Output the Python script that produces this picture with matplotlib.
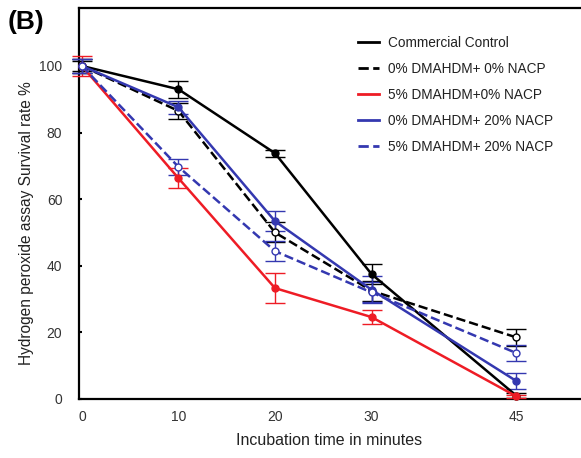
#!/usr/bin/env python3
"""Hydrogen peroxide assay survival rate vs incubation time (panel B)."""

import matplotlib
matplotlib.use("Agg")
import matplotlib.pyplot as plt
from matplotlib.lines import Line2D

TIME = [0, 10, 20, 30, 45]

SERIES = [
    "Commercial Control",
    "0% DMAHDM+ 0% NACP",
    "5% DMAHDM+0% NACP",
    "0% DMAHDM+ 20% NACP",
    "5% DMAHDM+ 20% NACP",
]
MEANS = {
    "Commercial Control":   [100, 93.0, 73.8, 37.5, 1.0],
    "0% DMAHDM+ 0% NACP":   [100, 86.5, 50.0, 32.5, 18.5],
    "5% DMAHDM+0% NACP":    [100, 66.3, 33.3, 24.6, 0.8],
    "0% DMAHDM+ 20% NACP":  [100, 87.6, 53.4, 32.8, 5.4],
    "5% DMAHDM+ 20% NACP":  [100, 69.7, 44.4, 32.0, 13.8],
}
ERRS = {
    "Commercial Control":   [1.5, 2.5, 1.0, 3.0, 0.8],
    "0% DMAHDM+ 0% NACP":   [2.0, 2.5, 3.0, 3.0, 2.5],
    "5% DMAHDM+0% NACP":    [3.0, 3.0, 4.5, 2.0, 0.5],
    "0% DMAHDM+ 20% NACP":  [2.0, 2.0, 3.0, 4.0, 2.5],
    "5% DMAHDM+ 20% NACP":  [2.0, 2.5, 3.0, 3.0, 2.5],
}

BLUE = "#3438b0"
COLORS = {
    "Commercial Control":   "black",
    "0% DMAHDM+ 0% NACP":   "black",
    "5% DMAHDM+0% NACP":    "#ee1c25",
    "0% DMAHDM+ 20% NACP":  BLUE,
    "5% DMAHDM+ 20% NACP":  BLUE,
}
DASHED = {"0% DMAHDM+ 0% NACP", "5% DMAHDM+ 20% NACP"}

plt.rcParams["font.family"] = ["Liberation Sans", "DejaVu Sans"]

fig = plt.figure(figsize=(5.81, 4.58), dpi=100)
ax = fig.add_axes([79 / 581, 1 - 399 / 458, 1 - 79 / 581 + 0.01, (399 - 8) / 458])

handles = []
for name in SERIES:
    c = COLORS[name]
    ls = "--" if name in DASHED else "-"
    ax.errorbar(TIME, MEANS[name], yerr=ERRS[name], color=c,
                linestyle=ls, linewidth=1.8,
                marker="o", markersize=5,
                markerfacecolor="white" if name in DASHED else c,
                markeredgecolor=c, markeredgewidth=1.0,
                capsize=7, elinewidth=1.0, capthick=1.0,
                clip_on=False, zorder=3)
    handles.append(Line2D([], [], color=c, linestyle=ls, linewidth=2.0))

ax.set_xlim(-0.3, 52.3)
ax.set_ylim(0, 117.4)
ax.set_xticks(TIME)
ax.set_yticks([0, 20, 40, 60, 80, 100])
ax.tick_params(axis="x", length=0, pad=8, labelsize=10, labelcolor="#333333")
ax.tick_params(axis="y", direction="in", length=2, width=1.5, pad=12,
               labelsize=10, labelcolor="#333333")
for sp in ax.spines.values():
    sp.set_linewidth(1.6)
ax.spines["right"].set_visible(False)

ax.set_xlabel("Incubation time in minutes", fontsize=11.5, color="#222222")
ax.xaxis.set_label_coords(0.492, -0.088)
ax.set_ylabel("Hydrogen peroxide assay Survival rate %", fontsize=11.2,
              color="#222222")
ax.yaxis.set_label_coords(-0.088, 0.45)

leg = ax.legend(handles, SERIES, loc="upper left", bbox_to_anchor=(0.549, 0.928),
                frameon=False, fontsize=9.8, handlelength=1.55, handletextpad=0.7,
                labelspacing=0.88, borderpad=0, borderaxespad=0)
for t in leg.get_texts():
    t.set_color("#222222")

fig.text(0.013, 0.978, "(B)", fontsize=19, fontweight="bold", va="top", ha="left")

fig.savefig("out.png", dpi=100)
